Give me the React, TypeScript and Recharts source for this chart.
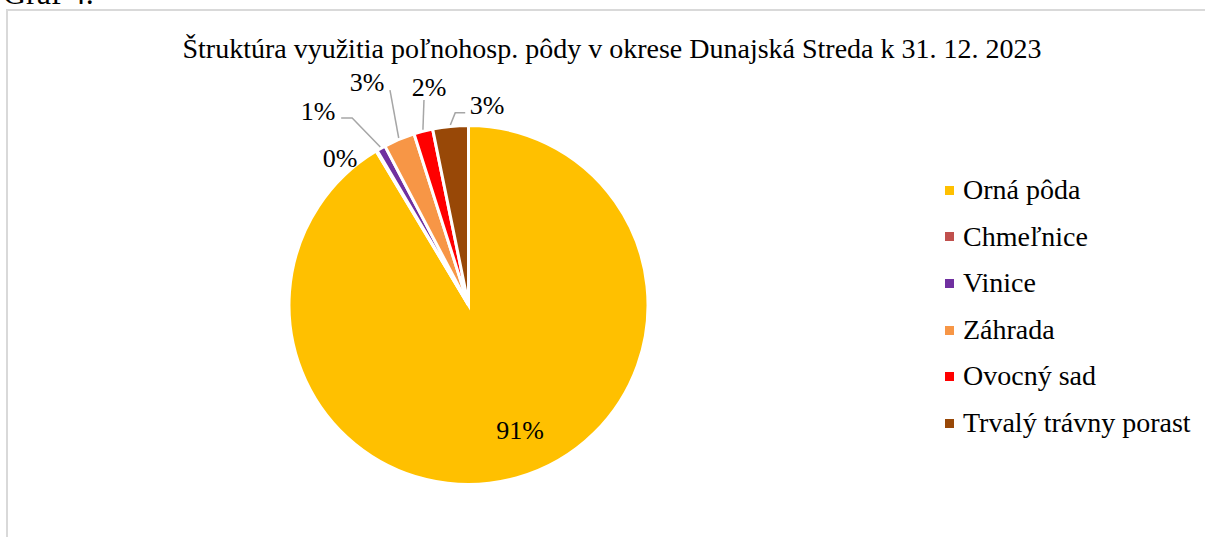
import React from 'react';
import { PieChart, Pie, Cell, Legend } from 'recharts';

// Kategórie a podiely (v %) odčítané z grafu
const kategorie = ['Orná pôda', 'Chmeľnice', 'Vinice', 'Záhrada', 'Ovocný sad', 'Trvalý trávny porast'];
const podiely = [91.4, 0.1, 0.8, 2.8, 1.7, 3.2];
const farby = ['#FFC000', '#C0504D', '#7030A0', '#F79646', '#FF0000', '#984807'];

const titulok = 'Štruktúra využitia poľnohosp. pôdy v okrese Dunajská Streda k 31. 12. 2023';

const data = kategorie.map((nazov, i) => ({ nazov, hodnota: podiely[i], farba: farby[i] }));

// Umiestnenie popiskov: posun uhla od stredu výseku, vzdialenosť od stredu, body vodiacej čiary
const popisky = [
  { dA: 7.0, r: 135, ciara: null },
  { dA: 10.4, r: 195, ciara: null },
  { dA: 8.6, r: 245.5, ciara: [[23, 7], [34, 7]] },
  { dA: 1.8, r: 245, ciara: [[23, 8]] },
  { dA: -4.3, r: 221.5, ciara: [[-5, 13]] },
  { dA: -11.1, r: 201, ciara: [[-22, 8], [-32, 8]] },
];

const FONT = 'Liberation Serif';
const RAD = Math.PI / 180;
const R_VIDITELNY = 178;

const renderPopisok = ({ cx, cy, midAngle, percent, index }: any) => {
  const p = popisky[index];
  const a = (midAngle + p.dA) * RAD;
  const lx = cx + p.r * Math.cos(a);
  const ly = cy - p.r * Math.sin(a);
  let body = '';
  if (p.ciara) {
    const pts = p.ciara.map(([dx, dy]) => `${lx + dx},${ly + dy}`);
    const ex = cx + (R_VIDITELNY + 3) * Math.cos(midAngle * RAD);
    const ey = cy - (R_VIDITELNY + 3) * Math.sin(midAngle * RAD);
    pts.push(`${ex},${ey}`);
    body = pts.join(' ');
  }
  return (
    <g key={`lbl-${index}`}>
      {body && <polyline points={body} fill="none" stroke="#a6a6a6" strokeWidth={1.5} />}
      <text
        x={lx}
        y={ly + 9}
        textAnchor="middle"
        fill="#000"
        fontFamily={FONT}
        fontSize={26}
        style={{ fontFamily: FONT, fontSize: 26 }}
      >
        {`${Math.round(percent * 100)}%`}
      </text>
    </g>
  );
};

const Legenda = () => (
  <div style={{ fontFamily: FONT, fontSize: 28, color: '#000' }}>
    {data.map((d) => (
      <div key={d.nazov} style={{ display: 'flex', alignItems: 'center', height: 46.6, lineHeight: '46.6px' }}>
        <span style={{ width: 9, height: 9, background: d.farba, marginRight: 9, display: 'inline-block' }} />
        <span style={{ whiteSpace: 'nowrap' }}>{d.nazov}</span>
      </div>
    ))}
  </div>
);

export default function App() {
  return (
    <div style={{ position: 'absolute', left: 0, top: 0, width: 1205, height: 537, overflow: 'hidden', background: '#fff' }}>
      <div
        style={{
          position: 'absolute',
          left: 6,
          top: 9,
          width: 1300,
          height: 600,
          border: '2px solid #d9d9d9',
        }}
      />
      <svg width={1205} height={70} style={{ position: 'absolute', left: 0, top: 0 }}>
        <text x={3} y={4} fontFamily={FONT} fontSize={32} fill="#000">Graf 4.</text>
        <text x={612} y={58} textAnchor="middle" fontFamily={FONT} fontSize={28} fill="#000">
          {titulok}
        </text>
      </svg>
      <div style={{ position: 'absolute', left: 0, top: 0 }}>
        <PieChart width={1205} height={537} margin={{ top: 0, right: 0, bottom: 0, left: 0 }}>
          <Pie
            data={data}
            dataKey="hodnota"
            nameKey="nazov"
            cx={468.5}
            cy={305}
            outerRadius={R_VIDITELNY + 1.5}
            startAngle={90}
            endAngle={-270}
            stroke="#fff"
            strokeWidth={3}
            labelLine={false}
            label={renderPopisok}
            isAnimationActive={false}
          >
            {data.map((d, i) => (
              <Cell key={`cell-${i}`} fill={d.farba} />
            ))}
          </Pie>
          <Legend
            content={<Legenda />}
            wrapperStyle={{ position: 'absolute', left: 945, top: 167, width: 260 }}
          />
        </PieChart>
      </div>
    </div>
  );
}
